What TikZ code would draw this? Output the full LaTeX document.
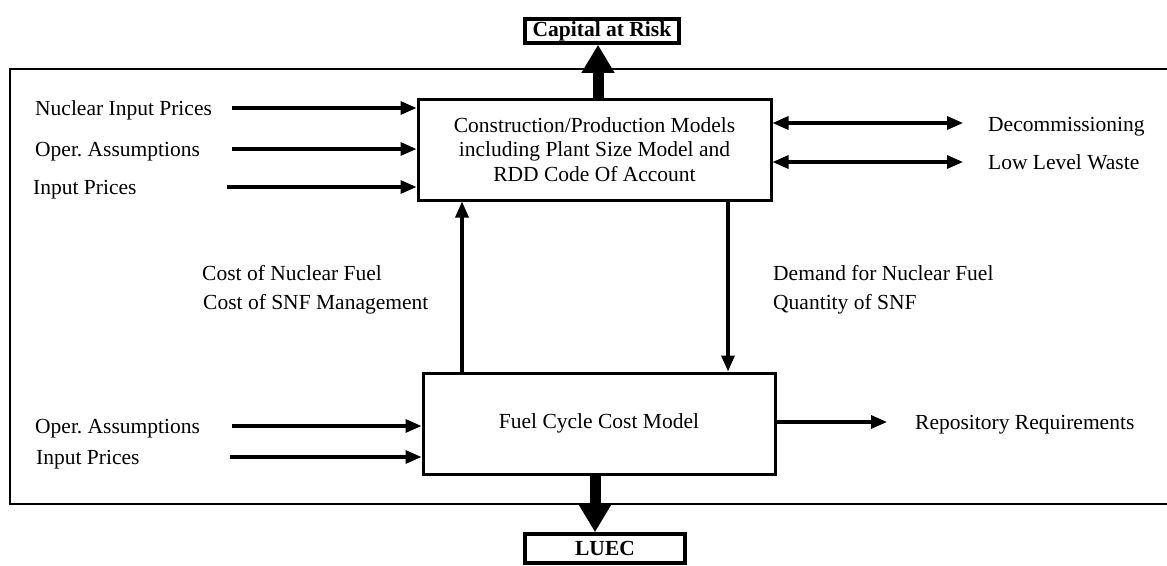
\documentclass[tikz,border=0pt]{standalone}
\usepackage{fontspec}
\setmainfont{Liberation Serif}
\frenchspacing
\usetikzlibrary{arrows.meta}
\begin{document}
\frenchspacing
\begin{tikzpicture}[x=1pt,y=-1pt,
  txt/.style={inner sep=0pt,anchor=base west,yshift=-7.2pt,font=\fontsize{21.5}{24}\selectfont},
  modelbox/.style={draw,line width=3pt,inner sep=0pt,font=\fontsize{21.5}{24.5}\selectfont,align=center},
  outbox/.style={draw,line width=3.5pt,inner sep=0pt,font=\fontsize{21.5}{24}\selectfont\bfseries},
  arr/.style={line width=3.2pt,-{Triangle[length=16pt,width=13pt]}},
  darr/.style={line width=3.2pt,{Triangle[length=16pt,width=13pt]}-{Triangle[length=16pt,width=13pt]}},
  bigarr/.style={line width=11pt,-{Triangle[length=28pt,width=31pt]}},
  framel/.style={line width=1.4pt}]
\useasboundingbox (0,0) rectangle (1167,565);
% frame
\draw[framel] (1167,69) -- (10,69) -- (10,504) -- (1167,504);
% boxes
\node[modelbox,minimum width=353pt,minimum height=101pt] (cons) at (594.5,149.5)
  {Construction/Production Models\\including Plant Size Model and\\RDD Code Of Account};
\node[modelbox,minimum width=352pt,minimum height=101pt] (fuel) at (599,423.5) {Fuel Cycle Cost Model};
\node[outbox,minimum width=154pt,minimum height=24pt] (cap) at (602,31) {Capital at Risk};
\node[outbox,minimum width=160pt,minimum height=29pt] (luec) at (605,548.5) {LUEC};
% thick arrows
\draw[bigarr] (cons.north -| 598,0) -- (cap.south -| 598,0);
\draw[bigarr] (fuel.south -| 595,0) -- (luec.north -| 595,0);
% top left inputs
\node[txt] (nip) at (35,108) {Nuclear Input Prices};
\node[txt] (oa1) at (35,149) {Oper. Assumptions};
\node[txt] (ip1) at (33,187) {Input Prices};
\coordinate (s1) at (232,108);
\coordinate (s2) at (232,149);
\coordinate (s3) at (227,187);
\draw[arr] (s1) -- (s1 -| cons.west);
\draw[arr] (s2) -- (s2 -| cons.west);
\draw[arr] (s3) -- (s3 -| cons.west);
% right double arrows
\node[txt] (dec) at (988,124) {Decommissioning};
\node[txt] (llw) at (988,162) {Low Level Waste};
\coordinate (e1) at (963,123);
\coordinate (e2) at (963,162);
\draw[darr] (e1 -| cons.east) -- (e1);
\draw[darr] (e2 -| cons.east) -- (e2);
% vertical arrows
\draw[arr] (fuel.north -| 462,0) -- (cons.south -| 462,0);
\draw[arr] (cons.south -| 728,0) -- (fuel.north -| 728,0);
\node[txt] (cnf) at (202,273) {Cost of Nuclear Fuel};
\node[txt] (csm) at (203,302) {Cost of SNF Management};
\node[txt] (dnf) at (773,273) {Demand for Nuclear Fuel};
\node[txt] (qsnf) at (773,302) {Quantity of SNF};
% bottom left inputs
\node[txt] (oa2) at (35,426) {Oper. Assumptions};
\node[txt] (ip2) at (36,457) {Input Prices};
\coordinate (s4) at (232,426);
\coordinate (s5) at (230,457);
\draw[arr] (s4) -- (s4 -| fuel.west);
\draw[arr] (s5) -- (s5 -| fuel.west);
% repository
\node[txt] (rep) at (915,422) {Repository Requirements};
\coordinate (e3) at (887,422);
\draw[arr] (e3 -| fuel.east) -- (e3);
\end{tikzpicture}
\end{document}
